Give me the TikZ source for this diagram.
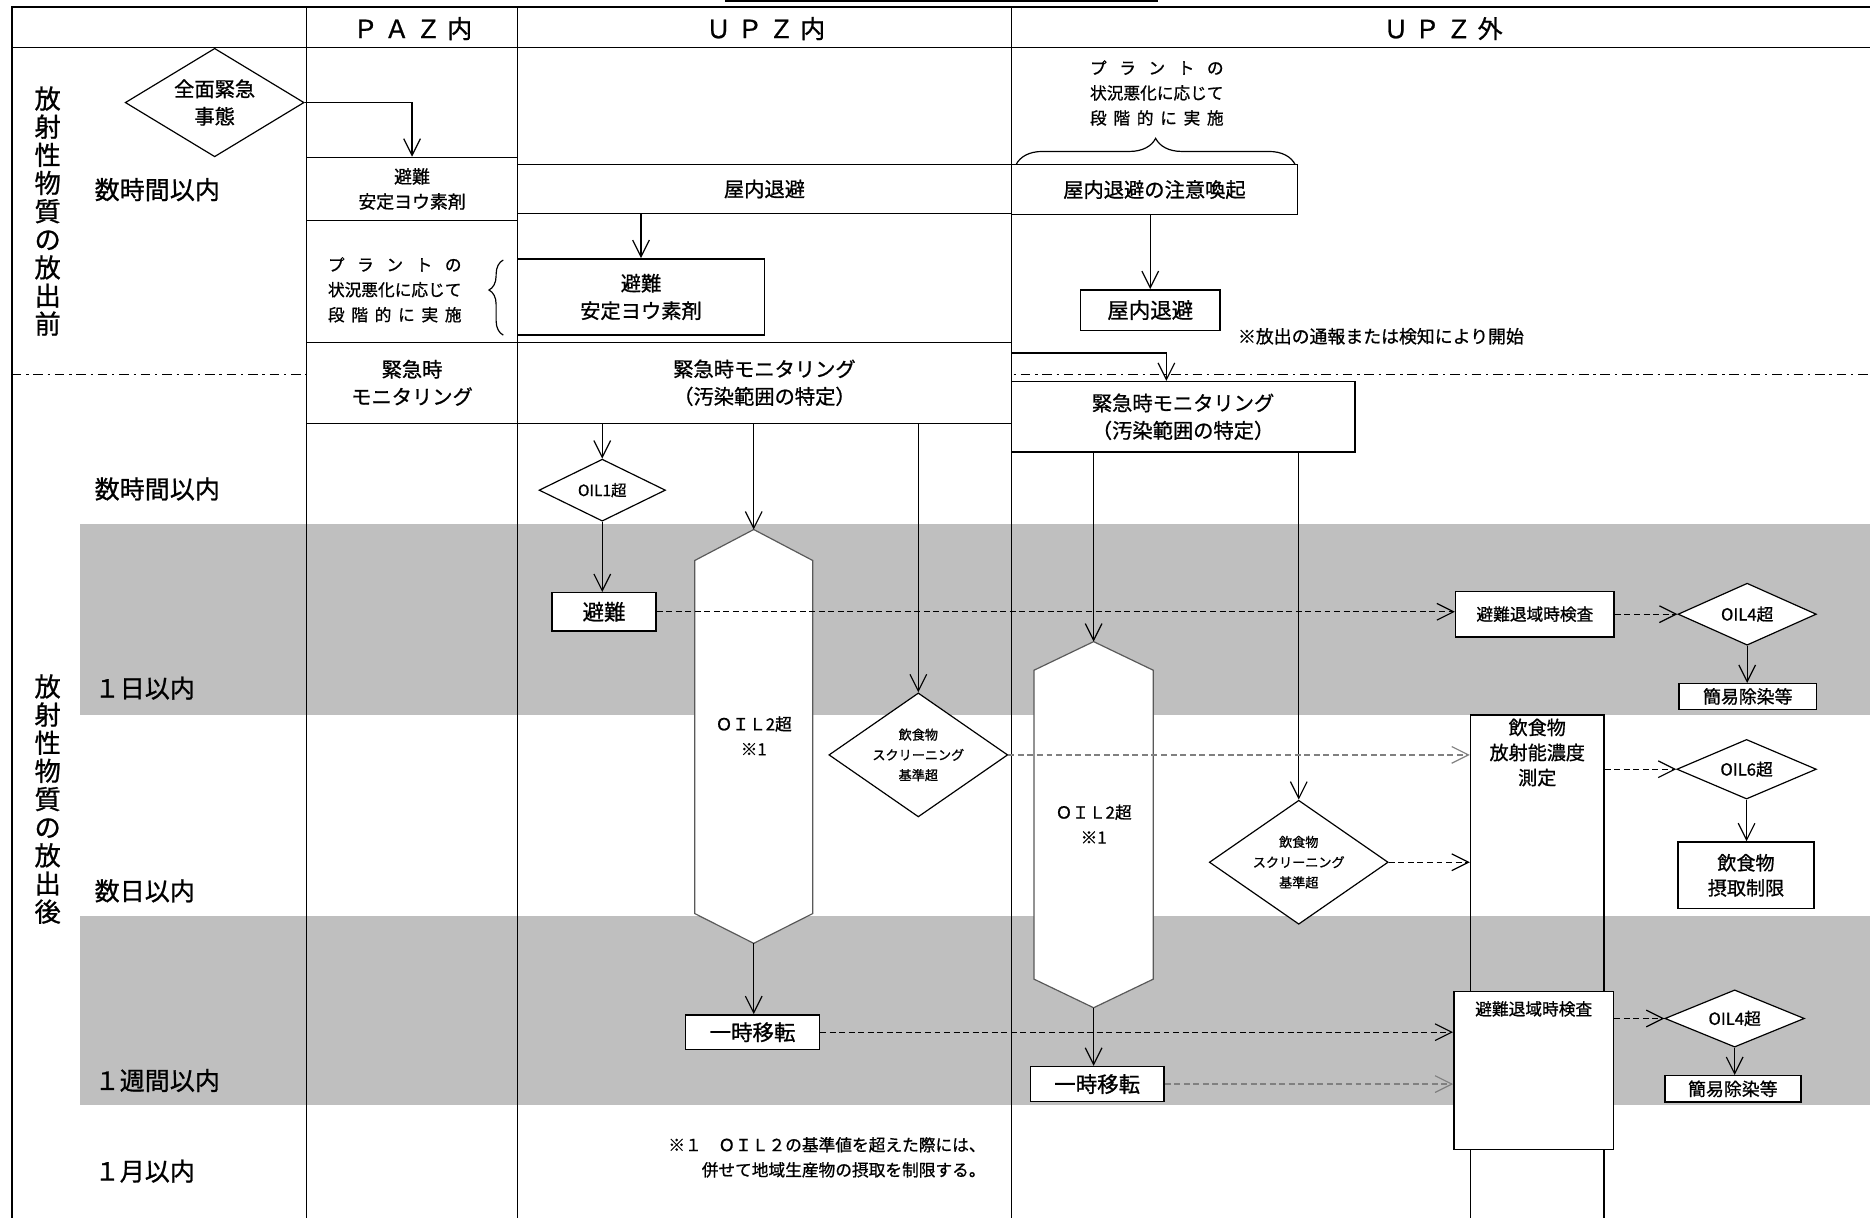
\documentclass[tikz,border=0pt]{standalone}
\usepackage{fontspec}
\setmainfont{Noto Sans CJK JP}[RawFeature={embolden=0.9}]
\usetikzlibrary{arrows.meta,shapes.geometric,decorations.pathreplacing}
\definecolor{bandgray}{RGB}{191,191,191}
\newcommand{\spr}[2]{\makebox[#1][s]{#2}}
\begin{document}
\begin{tikzpicture}[x={(0.5pt,0pt)}, y={(0pt,-0.5pt)},
  tl/.style={line width=0.6pt},
  bx/.style={draw, line width=0.6pt, fill=white, inner sep=0pt, align=center},
  dm/.style={draw, diamond, line width=0.5pt, fill=white, inner sep=0pt, align=center},
  arr/.style={line width=0.5pt, -{Straight Barb[length=7pt,width=7pt]}},
  darr/.style={arr, dash pattern=on 2.5pt off 1.5pt},
  gdarr/.style={arr, draw=black!50, dash pattern=on 2.5pt off 1.5pt},
  hexs/.style={draw=black!65, line width=0.5pt, fill=white},
  f55/.style={font=\fontsize{5.5pt}{8.5pt}\selectfont},
  f65/.style={font=\fontsize{6.5pt}{8pt}\selectfont},
  f7/.style={font=\fontsize{7pt}{10.5pt}\selectfont},
  f75/.style={font=\fontsize{7.5pt}{10.5pt}\selectfont},
  f8/.style={font=\fontsize{8pt}{10.5pt}\selectfont},
  f85/.style={font=\fontsize{8.5pt}{11.5pt}\selectfont},
  f9/.style={font=\fontsize{9pt}{11pt}\selectfont},
  f10/.style={font=\fontsize{10.5pt}{12pt}\selectfont},
  lab/.style={anchor=west, inner sep=0pt, font=\fontsize{10.5pt}{12pt}\selectfont},
  vlab/.style={align=center, font=\fontsize{11pt}{11.8pt}\selectfont}
]
\useasboundingbox (0,0) rectangle (1568,1021);

% grey bands
\fill[bandgray] (67,439.5) rectangle (1568,599.5);
\fill[bandgray] (67,768) rectangle (1568,926.5);

% table frame
\draw[line width=1pt] (608,1) -- (971,1);
\draw[tl] (10,1025) -- (10,6) -- (1568,6);
\draw[tl] (10,40) -- (1568,40);
\draw[tl] (257,6) -- (257,1025);
\draw[tl] (434,6) -- (434,1025);
\draw[tl] (848,6) -- (848,1025);
\draw[line width=0.5pt, dash pattern=on 4pt off 2pt on 1pt off 2pt] (10,314) -- (1568,314);

% headers
\node[f10] (hpaz) at (346,24) {\spr{50pt}{Ｐ\hfill Ａ\hfill Ｚ\hfill 内}};
\node[f10] (hupzin) at (642,24) {\spr{50pt}{Ｕ\hfill Ｐ\hfill Ｚ\hfill 内}};
\node[f10] (hupzout) at (1210,24) {\spr{50pt}{Ｕ\hfill Ｐ\hfill Ｚ\hfill 外}};

% side labels
\node[vlab] (vpre) at (40,177) {放\\射\\性\\物\\質\\の\\放\\出\\前};
\node[vlab] (vpost) at (40,670) {放\\射\\性\\物\\質\\の\\放\\出\\後};
\node[lab] (t1) at (79,159) {数時間以内};
\node[lab] (t2) at (79,410) {数時間以内};
\node[lab] (t3) at (79,577) {１日以内};
\node[lab] (t4) at (79,747) {数日以内};
\node[lab] (t5) at (79,906) {１週間以内};
\node[lab] (t6) at (79,982) {１月以内};

% before release
\node[dm, shape aspect=1.65, minimum width=75pt, minimum height=45.5pt, f85] (emerg) at (180,86) {全面緊急\\事態};
\node[bx, minimum width=88.5pt, minimum height=26.5pt, f75] (pazevac) at (345.5,158.5) {避難\\安定ヨウ素剤};
\draw[arr] (emerg.east) -| (pazevac.north);

\node[bx, minimum width=207pt, minimum height=20.5pt, f85] (ushelter) at (641,158.5) {屋内退避};
\node[bx, minimum width=120pt, minimum height=21pt, f85] (oalert) at (968,159) {屋内退避の注意喚起};

\node[f7, align=center] (oplant) at (970,78) {\spr{8em}{プ\hfill ラ\hfill ン\hfill ト\hfill の}\\状況悪化に応じて\\\spr{8em}{段\hfill 階\hfill 的\hfill に\hfill 実\hfill 施}};
\draw[line width=0.5pt, decorate, decoration={brace, amplitude=11pt}] (852,138) -- (1086,138);

\node[bx, minimum width=103.5pt, minimum height=32pt, f85] (uevac) at (537.5,249) {避難\\安定ヨウ素剤};
\draw[arr] (uevac.north |- ushelter.south) -- (uevac.north);

\node[f7, align=center] (pazplant) at (331,243) {\spr{8em}{プ\hfill ラ\hfill ン\hfill ト\hfill の}\\状況悪化に応じて\\\spr{8em}{段\hfill 階\hfill 的\hfill に\hfill 実\hfill 施}};
\draw[line width=0.5pt, decorate, decoration={brace, amplitude=6pt, aspect=0.6}] (422,281) -- (422,218);

\node[bx, minimum width=58.5pt, minimum height=17pt, f9] (oshelter) at (964.5,260) {屋内退避};
\draw[arr] (oshelter.north |- oalert.south) -- (oshelter.north);
\node[f75, anchor=west] (note) at (1031,282) {※放出の通報または検知により開始};

% monitoring
\node[bx, minimum width=88.5pt, minimum height=34pt, f85] (pazmon) at (345.5,321) {緊急時\\モニタリング};
\node[bx, minimum width=207pt, minimum height=34pt, f85] (umon) at (641,321) {緊急時モニタリング\\（汚染範囲の特定）};
\node[bx, minimum width=144pt, minimum height=29.5pt, f85] (omon) at (992,349.5) {緊急時モニタリング\\（汚染範囲の特定）};
\coordinate (jn) at (978,296);
\draw[arr] (umon.east |- jn) -- (jn) -- (jn |- omon.north);

% UPZ inside, after release
\node[dm, shape aspect=2, minimum width=53pt, minimum height=26pt, f65] (oil1) at (505,411) {OIL1超};
\draw[arr] (oil1.north |- umon.south) -- (oil1.north);
\node[bx, minimum width=43.5pt, minimum height=16pt, f9] (uevac2) at (506.5,513) {避難};
\draw[arr] (oil1.south) -- (oil1.south |- uevac2.north);

\draw[hexs] (632,444) coordinate (h1t) -- (681.5,470) -- (681.5,766) -- (632,791) coordinate (h1b) -- (582.5,766) -- (582.5,470) -- cycle;
\node[f7, align=center] (h1txt) at (632,617) {ＯＩＬ2超\\※1};
\draw[arr] (h1t |- umon.south) -- (h1t);
\node[bx, minimum width=56pt, minimum height=14.5pt, f9] (umove) at (631,865.5) {一時移転};
\draw[arr] (h1b) -- (h1b |- umove.north);

\node[dm, shape aspect=1.44, minimum width=75pt, minimum height=52pt, f55] (uscr) at (770,633) {飲食物\\スクリーニング\\基準超};
\draw[arr] (uscr.north |- umon.south) -- (uscr.north);

% UPZ outside, after release
\draw[hexs] (917,538) coordinate (h2t) -- (967,562) -- (967,821) -- (917,845) coordinate (h2b) -- (867,821) -- (867,562) -- cycle;
\node[f7, align=center] (h2txt) at (917,691) {ＯＩＬ2超\\※1};
\draw[arr] (h2t |- omon.south) -- (h2t);
\node[bx, minimum width=56pt, minimum height=14.75pt, f9] (omove) at (920,909) {一時移転};
\draw[arr] (h2b) -- (h2b |- omove.north);

\node[dm, shape aspect=1.44, minimum width=75pt, minimum height=52pt, f55] (oscr) at (1089,723) {飲食物\\スクリーニング\\基準超};
\draw[arr] (oscr.north |- omon.south) -- (oscr.north);

% right column
\node[draw, line width=0.6pt, inner sep=0pt, minimum width=56pt, minimum height=240pt, anchor=north] (meas) at (1289,599) {};
\node[f8, align=center] (meast) at (1289,631) {飲食物\\放射能濃度\\測定};

\node[bx, minimum width=66.5pt, minimum height=19pt, f7] (exam1) at (1287,515) {避難退域時検査};
\node[dm, shape aspect=2.25, minimum width=58pt, minimum height=26pt, f7] (oil4a) at (1465,515) {OIL4超};
\node[bx, minimum width=57.5pt, minimum height=10.75pt, f75] (decon1) at (1465.5,584) {簡易除染等};
\draw[darr] (exam1.east) -- (oil4a.west);
\draw[arr] (oil4a.south) -- (oil4a.south |- decon1.north);

\node[dm, shape aspect=2.25, minimum width=58.5pt, minimum height=25pt, f7] (oil6) at (1464.5,645) {OIL6超};
\draw[darr] (meas.east |- oil6.west) -- (oil6.west);
\node[bx, minimum width=57pt, minimum height=28pt, f8] (intake) at (1464,734) {飲食物\\摂取制限};
\draw[arr] (oil6.south) -- (oil6.south |- intake.north);

\node[bx, minimum width=67pt, minimum height=66.25pt] (exam2) at (1286,897.75) {};
\node[f7] (exam2t) at (1286,846) {避難退域時検査};
\node[dm, shape aspect=2.4, minimum width=58.5pt, minimum height=24pt, f7] (oil4b) at (1454.5,854) {OIL4超};
\draw[darr] (exam2.east |- oil4b.west) -- (oil4b.west);
\node[bx, minimum width=57pt, minimum height=11pt, f75] (decon2) at (1453,913) {簡易除染等};
\draw[arr] (oil4b.south) -- (oil4b.south |- decon2.north);

% long dashed connectors
\draw[darr] (uevac2.east) -- (uevac2.east -| exam1.west);
\draw[gdarr] (uscr.east) -- (uscr.east -| meas.west);
\draw[darr] (umove.east) -- (umove.east -| exam2.west);
\draw[gdarr] (omove.east) -- (omove.east -| exam2.west);
\draw[darr] (oscr.east) -- (oscr.east -| meas.west);

% footnote
\node[f7, align=left, anchor=north west, inner sep=0pt] (foot) at (560,953) {※１　ＯＩＬ２の基準値を超えた際には、\\\hspace{2em}併せて地域生産物の摂取を制限する。};
\end{tikzpicture}
\end{document}
